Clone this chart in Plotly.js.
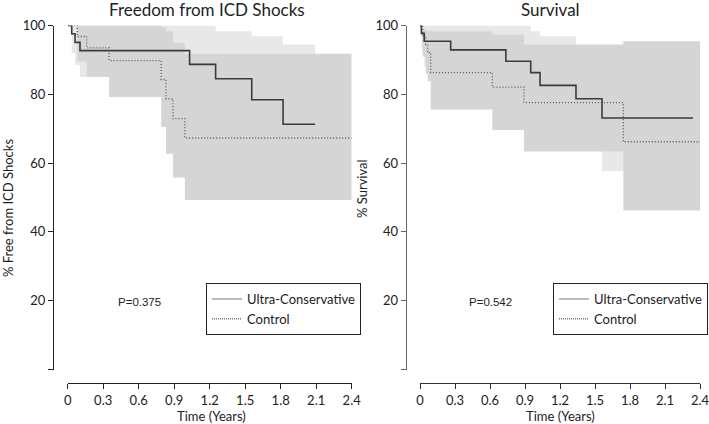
<!DOCTYPE html>
<html><head><meta charset="utf-8">
<script src="https://cdn.plot.ly/plotly-3.0.1.min.js"></script>
<style>html,body{margin:0;padding:0;background:#fff}#c{width:709px;height:424px}</style>
</head><body><div id="c"></div>
<script>
// ---- Left panel: Freedom from ICD Shocks ----
const ucTimeL = [0, 0.034, 0.062, 0.104, 1.03, 1.25, 1.555, 1.82, 2.09];
const ucSurvL = [100, 97.6, 95.1, 92.7, 88.7, 84.5, 78.4, 71.3, 71.3];
const ucLoL   = [100, 92, 88.5, 85, 80, 75, 68, 60, 60];
const ucHiL   = [100, 100, 100, 100, 100, 98.3, 96.9, 94.5, 94.5];
const ctlTimeL = [0, 0.081, 0.16, 0.35, 0.79, 0.83, 0.89, 0.99, 2.4];
const ctlSurvL = [100, 96.8, 93.5, 89.8, 84.3, 78.7, 72.9, 67.3, 67.3];
const ctlLoL   = [100, 89.5, 85, 79.2, 70.5, 62.7, 55.8, 49.3, 49.3];
const ctlHiL   = [100, 100, 100, 100, 99.5, 98.3, 95, 91.8, 91.8];
// ---- Right panel: Survival ----
const ucTimeR = [0, 0.012, 0.036, 0.263, 0.736, 0.949, 1.029, 1.337, 1.56, 2.34];
const ucSurvR = [100, 97.7, 95.4, 92.9, 89.6, 86.3, 82.6, 78.7, 73.1, 73.1];
const ucLoR   = [100, 93, 88, 84, 80, 76, 71, 66.5, 57.7, 57.7];
const ucHiR   = [100, 100, 100, 100, 100, 98.3, 96.9, 94, 93, 93];
const ctlTimeR = [0, 0.023, 0.049, 0.066, 0.092, 0.62, 0.891, 1.743, 2.405];
const ctlSurvR = [100, 96.9, 94.5, 92.1, 86.3, 82.1, 77.6, 66.2, 66.2];
const ctlLoR   = [100, 91, 86, 83.8, 75.6, 69.6, 63.4, 46.2, 46.2];
const ctlHiR   = [100, 99, 98.5, 98.3, 98.3, 97.4, 94.5, 95.4, 95.4];

const groupNames = ['Ultra-Conservative', 'Control'];
const panelTitles = ['Freedom from ICD Shocks', 'Survival'];
const yTitles = ['% Free from ICD Shocks', '% Survival'];
const pValues = ['P=0.375', 'P=0.542'];
const xTicks = [0, 0.3, 0.6, 0.9, 1.2, 1.5, 1.8, 2.1, 2.4];
const xTickText = ['0', '0.3', '0.6', '0.9', '1.2', '1.5', '1.8', '2.1', '2.4'];
const yTicks = [0, 20, 40, 60, 80, 100];
const yTickText = ['', '20', '40', '60', '80', '100'];

const LIGHT = '#e8e8e8', DARK = '#d5d5d5';
function band(t, lo, hi, color, xa, ya) {
  return [
    {x: t, y: lo, xaxis: xa, yaxis: ya, mode: 'lines', line: {width: 0, shape: 'hv'}, showlegend: false, hoverinfo: 'skip'},
    {x: t, y: hi, xaxis: xa, yaxis: ya, mode: 'lines', line: {width: 0, shape: 'hv'}, fill: 'tonexty', fillcolor: color, showlegend: false, hoverinfo: 'skip'}
  ];
}
function curve(t, s, dotted, xa, ya) {
  return {x: t, y: s, xaxis: xa, yaxis: ya, mode: 'lines', showlegend: false,
    line: dotted ? {color: '#555', width: 1.3, dash: '1px,2px', shape: 'hv'} : {color: '#3a3a3a', width: 1.6, shape: 'hv'}};
}
function legendItems(lg) {
  return [
    {x: [null], y: [null], mode: 'lines', name: groupNames[0], legend: lg, line: {color: '#aaa', width: 1.6}},
    {x: [null], y: [null], mode: 'lines', name: groupNames[1], legend: lg, line: {color: '#333', width: 1, dash: '1px,1px'}}
  ];
}
const data = [].concat(
  band(ucTimeL, ucLoL, ucHiL, LIGHT, 'x', 'y'),
  band(ctlTimeL, ctlLoL, ctlHiL, DARK, 'x', 'y'),
  band(ucTimeR, ucLoR, ucHiR, LIGHT, 'x2', 'y2'),
  band(ctlTimeR, ctlLoR, ctlHiR, DARK, 'x2', 'y2'),
  [curve(ctlTimeL, ctlSurvL, true, 'x', 'y'), curve(ucTimeL, ucSurvL, false, 'x', 'y'),
   curve(ctlTimeR, ctlSurvR, true, 'x2', 'y2'), curve(ucTimeR, ucSurvR, false, 'x2', 'y2')],
  legendItems('legend'), legendItems('legend2')
);

const W = 709, H = 424;
const px = v => v / W, py = v => (H - v) / H;
const FONT = 'Lato, "Open Sans", sans-serif';
function xax(d0, d1, col) {
  return {domain: [px(d0), px(d1)], range: [0, 2.4], anchor: 'free', position: py(383),
    showline: true, linecolor: col, linewidth: 1, ticks: 'outside', ticklen: 5, tickcolor: col,
    tickvals: xTicks, ticktext: xTickText, showgrid: false, zeroline: false, ticklabeloverflow: 'allow',
    tickfont: {family: FONT, size: 13, color: '#222'}, fixedrange: true};
}
function yax(pos, col) {
  return {domain: [py(369.5), py(25.5)], range: [0, 100], anchor: 'free', position: px(pos),
    showline: true, linecolor: col, linewidth: 1, ticks: 'outside', ticklen: 5, tickcolor: col,
    tickvals: yTicks, ticktext: yTickText, showgrid: false, zeroline: false, ticklabeloverflow: 'allow',
    tickfont: {family: FONT, size: 13, color: '#222'}, fixedrange: true};
}
function ann(text, x, y, size, extra) {
  return Object.assign({text: text, x: px(x), y: py(y), xref: 'paper', yref: 'paper', showarrow: false,
    xanchor: 'center', yanchor: 'middle', font: {family: FONT, size: size, color: '#222'}}, extra || {});
}
const legendBase = {yanchor: 'top', xanchor: 'left', bordercolor: '#222', borderwidth: 1, bgcolor: '#fff',
  font: {family: FONT, size: 13, color: '#222'}, itemwidth: 30, tracegroupgap: 0, traceorder: 'normal'};
const layout = {
  width: W, height: H, margin: {l: 0, r: 0, t: 0, b: 0}, paper_bgcolor: '#fff', plot_bgcolor: 'rgba(0,0,0,0)',
  showlegend: true,
  xaxis: xax(67.7, 351.7, '#222'), yaxis: yax(53, '#222'),
  xaxis2: xax(420, 700, '#333'), yaxis2: yax(405.7, '#666'),
  legend: Object.assign({x: px(206), y: py(283)}, legendBase),
  legend2: Object.assign({x: px(553), y: py(283)}, legendBase),
  annotations: [
    ann(panelTitles[0], 207, 9, 17), ann(panelTitles[1], 550, 9, 17),
    ann(yTitles[0], 8, 208, 13, {textangle: -90}), ann(yTitles[1], 362, 189, 13, {textangle: -90}),
    ann('Time (Years)', 212, 416, 13), ann('Time (Years)', 560, 416, 13),
    ann(pValues[0], 139, 302, 11.5, {font: {family: '"Liberation Sans", Arial, sans-serif', size: 11.5, color: '#222'}}),
    ann(pValues[1], 490, 302, 11.5, {font: {family: '"Liberation Sans", Arial, sans-serif', size: 11.5, color: '#222'}})
  ]
};
Plotly.newPlot('c', data, layout, {displayModeBar: false, staticPlot: true});
</script></body></html>
